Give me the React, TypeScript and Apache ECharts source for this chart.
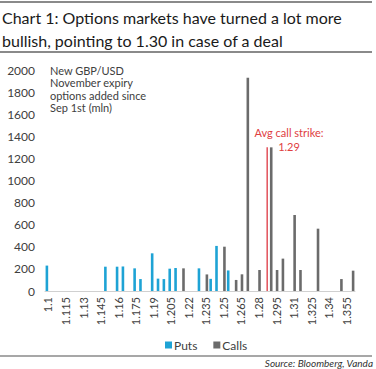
import React, { useEffect, useRef } from "react";
import * as echarts from "echarts";

const categories = [
  "1.1", "1.105", "1.11", "1.115", "1.12", "1.125", "1.13", "1.135", "1.14", "1.145",
  "1.15", "1.155", "1.16", "1.165", "1.17", "1.175", "1.18", "1.185", "1.19", "1.195",
  "1.2", "1.205", "1.21", "1.215", "1.22", "1.225", "1.23", "1.235", "1.24", "1.245",
  "1.25", "1.255", "1.26", "1.265", "1.27", "1.275", "1.28", "1.285", "1.29", "1.295",
  "1.3", "1.305", "1.31", "1.315", "1.32", "1.325", "1.33", "1.335", "1.34", "1.345",
  "1.35", "1.355", "1.36",
];

const puts = [
  230, null, null, null, null, null, null, null, null, null,
  220, null, 220, 222, null, 205, 108, null, 341, 112,
  108, 202, 208, null, null, null, 205, null, 110, 408,
  null, 186, null, null, null, null, null, null, null, null,
  null, null, null, null, null, null, null, null, null, null,
  null, null, null,
];

const calls = [
  null, null, null, null, null, null, null, null, null, null,
  null, null, null, null, null, null, null, null, null, null,
  null, null, null, 205, null, null, null, 150, null, null,
  401, null, 100, 151, 1930, null, 190, null, 1300, 190,
  293, null, 688, 190, null, null, 564, null, null, null,
  108, null, 184,
];

const avgStrike = [
  null, null, null, null, null, null, null, null, null, null,
  null, null, null, null, null, null, null, null, null, null,
  null, null, null, null, null, null, null, null, null, null,
  null, null, null, null, null, null, null, null, 1300, null,
  null, null, null, null, null, null, null, null, null, null,
  null, null, null,
];

const FONT = "Lato, 'Open Sans', sans-serif";

export default function App() {
  const ref = useRef<HTMLDivElement>(null);
  useEffect(() => {
    if (!ref.current) return;
    const chart = echarts.init(ref.current, null, { renderer: "svg" });
    chart.setOption({
      animation: false,
      textStyle: { fontFamily: FONT },
      grid: { left: 45, right: 21, top: 70, bottom: 78 },
      legend: {
        data: ["Puts", "Calls"],
        left: 160,
        top: 334,
        itemWidth: 7,
        itemHeight: 7,
        itemGap: 16,
        icon: "rect",
        textStyle: { fontSize: 12, color: "#404040", fontFamily: FONT, padding: [0, 0, 0, -3] },
      },
      xAxis: [
        {
          type: "category",
          data: categories,
          axisLine: { lineStyle: { color: "#d0d0d0", width: 1 } },
          axisTick: { show: false },
          axisLabel: {
            interval: 2,
            rotate: 90,
            fontSize: 11,
            color: "#404040",
            margin: 6,
            fontFamily: FONT,
          },
        },
        {
          type: "category",
          data: categories,
          show: false,
        },
      ],
      yAxis: {
        type: "value",
        min: 0,
        max: 2000,
        interval: 200,
        splitLine: { show: false },
        axisLine: { show: false },
        axisTick: { show: false },
        axisLabel: {
          fontSize: 12,
          color: "#404040",
          margin: 10,
          fontFamily: FONT,
          formatter: (v: number) => String(v),
        },
      },
      series: [
        {
          name: "Puts",
          type: "bar",
          data: puts,
          barWidth: 2.6,
          barGap: "-20%",
          itemStyle: { color: "#1ea3d5" },
        },
        {
          name: "Calls",
          type: "bar",
          data: calls,
          barWidth: 2.6,
          barGap: "-20%",
          itemStyle: { color: "#6b6b6b" },
        },
        {
          name: "Avg call strike",
          type: "bar",
          xAxisIndex: 1,
          data: avgStrike,
          barWidth: 1.5,
          barGap: "300%",
          itemStyle: { color: "#e2505a" },
        },
        {
          name: "spacer",
          type: "bar",
          xAxisIndex: 1,
          data: [],
          barWidth: 1.5,
          barGap: "300%",
        },
      ],
      graphic: [
        { type: "line", shape: { x1: 0, y1: 2, x2: 372, y2: 2 }, style: { stroke: "#8a8a8a", lineWidth: 2 } },
        { type: "line", shape: { x1: 0, y1: 52, x2: 372, y2: 52 }, style: { stroke: "#8a8a8a", lineWidth: 2 } },
        { type: "line", shape: { x1: 0, y1: 356, x2: 372, y2: 356 }, style: { stroke: "#8a8a8a", lineWidth: 1.5 } },
        {
          type: "text",
          left: 2,
          top: 6,
          style: {
            text: "Chart 1: Options markets have turned a lot more\nbullish, pointing to 1.30 in case of a deal",
            font: `16px ${FONT}`,
            lineHeight: 23,
            fill: "#1a1a1a",
          },
        },
        {
          type: "text",
          left: 50,
          top: 64,
          style: {
            text: "New GBP/USD\nNovember expiry\noptions added since\nSep 1st (mln)",
            font: `11px ${FONT}`,
            lineHeight: 12.5,
            fill: "#404040",
          },
        },
        {
          type: "text",
          x: 289,
          y: 126,
          style: {
            text: "Avg call strike:\n1.29",
            font: `11px ${FONT}`,
            lineHeight: 13.5,
            fill: "#e0403f",
            align: "center",
          },
        },
        {
          type: "text",
          x: 373,
          y: 358,
          style: {
            text: "Source: Bloomberg, Vanda",
            font: `italic 10px ${FONT}`,
            fill: "#333333",
            align: "right",
          },
        },
      ],
    });
    return () => chart.dispose();
  }, []);
  return (
    <div
      ref={ref}
      style={{ position: "fixed", left: 0, top: 0, width: 376, height: 369, background: "#fff" }}
    />
  );
}
